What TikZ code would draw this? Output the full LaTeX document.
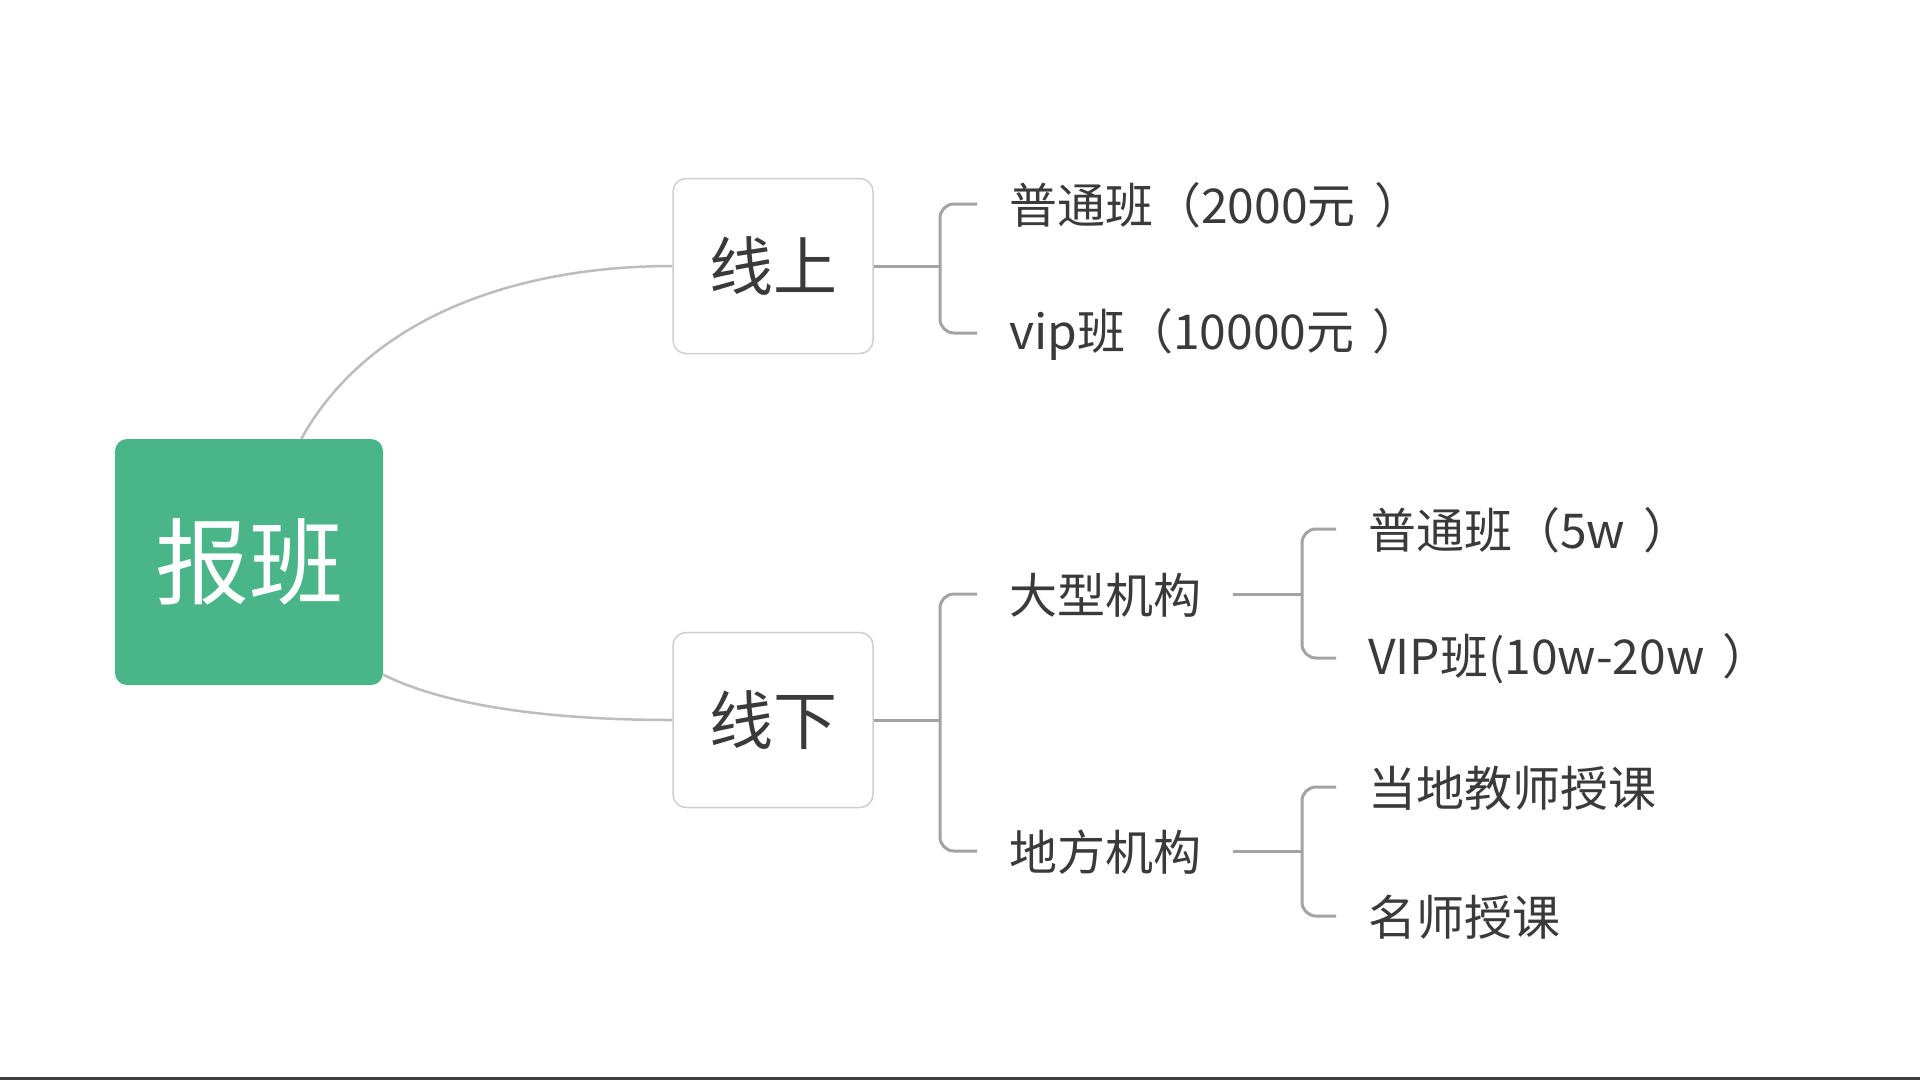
\documentclass[tikz,border=0pt]{standalone}
\usepackage{fontspec}
\setmainfont{Noto Sans CJK SC}
\usetikzlibrary{calc}
\definecolor{rootgreen}{HTML}{4BB58A}
\definecolor{txt}{HTML}{3A3A3A}
\definecolor{curvegray}{HTML}{BDBDBD}
\definecolor{bracegray}{HTML}{A3A3A3}
\definecolor{boxgray}{HTML}{CFCFCF}
\newcommand{\rp}{\kern0.38em）}
\tikzset{
  rootbox/.style={fill=rootgreen, rounded corners=12pt, minimum width=268pt, minimum height=246pt,
    text=white, font=\fontsize{94pt}{100pt}\selectfont, inner sep=0pt},
  midbox/.style={draw=boxgray, line width=1.5pt, fill=white, rounded corners=13pt, minimum width=200pt,
    minimum height=175pt, text=txt, font=\fontsize{64pt}{70pt}\selectfont, inner sep=0pt},
  leaf/.style={anchor=west, text=txt, font=\fontsize{48pt}{54pt}\selectfont, inner sep=0pt},
  curveline/.style={draw=curvegray, line width=2.5pt},
  braceline/.style={draw=bracegray, line width=3pt, rounded corners=14pt}
}
\begin{document}
\begin{tikzpicture}[x=1pt,y=-1pt]
\useasboundingbox (0,0) rectangle (1920,1080);
\fill[white] (0,0) rectangle (1920,1080);
\fill[black!75] (0,1077) rectangle (1920,1080);

% nodes
\node[rootbox] (root) at (249,562) {报班};
\node[midbox] (on) at (773,266) {线上};
\node[midbox] (off) at (773,720) {线下};

\node[leaf] (a1) at (1009,205) {普通班（2000元\rp};
\node[leaf] (a2) at (1009,334) {vip班（10000元\rp};
\node[leaf] (big) at (1009,595) {大型机构};
\node[leaf] (loc) at (1009,852) {地方机构};
\node[leaf] (b1) at (1368,530) {普通班（5w\rp};
\node[leaf] (b2) at (1368,659) {VIP班(10w-20w\rp};
\node[leaf] (c1) at (1368,788) {当地教师授课};
\node[leaf] (c2) at (1368,917) {名师授课};

% junction coordinates
\coordinate (jon) at (940,266);
\coordinate (joff) at (940,720);
\coordinate (jbig) at (1302,594);
\coordinate (jloc) at (1302,851);

% curves from root
\draw[curveline] (root.67) .. controls (370,315) and (520,266) .. (on.west);
\draw[curveline] (root.-40) .. controls (450,708) and (560,720) .. (off.west);

% brace for 线上
\draw[braceline] (on.east) -- (jon);
\draw[braceline] ($(a1.west)+(-32,-1)$) -| (jon) |- ($(a2.west)+(-32,-1)$);

% brace for 线下
\draw[braceline] (off.east) -- (joff);
\draw[braceline] ($(big.west)+(-32,-1)$) -| (joff) |- ($(loc.west)+(-32,-1)$);

% brace for 大型机构
\draw[braceline] ($(big.east)+(32,-1)$) -- (jbig);
\draw[braceline] ($(b1.west)+(-32,-1)$) -| (jbig) |- ($(b2.west)+(-32,-1)$);

% brace for 地方机构
\draw[braceline] ($(loc.east)+(32,-1)$) -- (jloc);
\draw[braceline] ($(c1.west)+(-32,-1)$) -| (jloc) |- ($(c2.west)+(-32,-1)$);
\end{tikzpicture}
\end{document}
